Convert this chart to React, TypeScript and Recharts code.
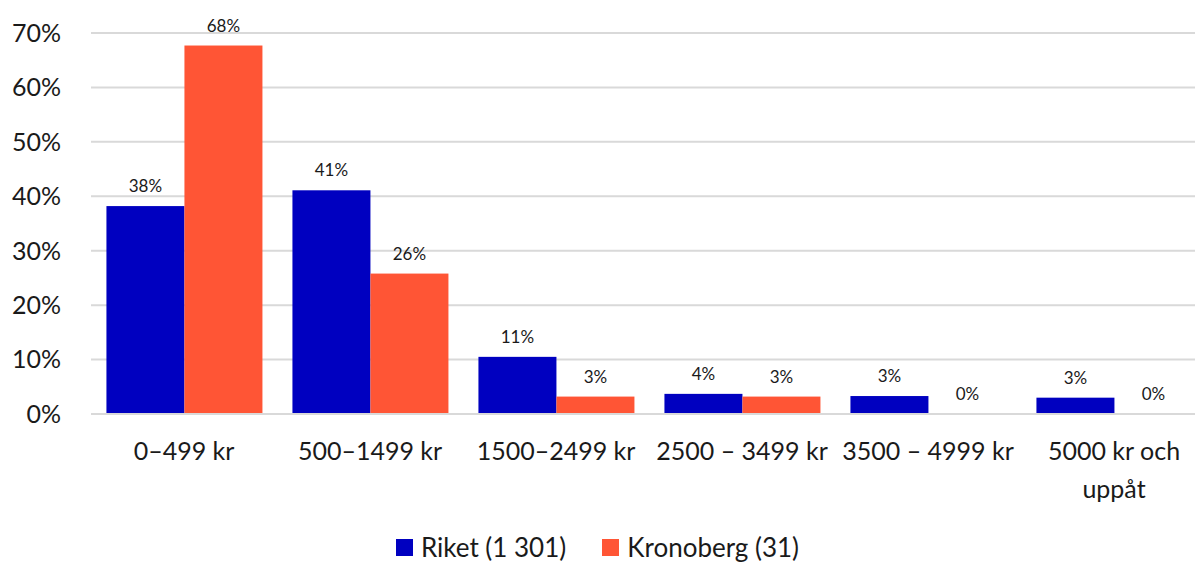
import React from 'react';
import { BarChart, Bar, XAxis, YAxis, CartesianGrid, Legend } from 'recharts';

const categories = ['0–499 kr', '500–1499 kr', '1500–2499 kr', '2500 – 3499 kr', '3500 – 4999 kr', '5000 kr och\nuppåt'];
const riket = [38.2, 41.1, 10.5, 3.7, 3.3, 3.0];
const kronoberg = [67.7, 25.8, 3.2, 3.2, 0, 0];
const yTicks = [0, 10, 20, 30, 40, 50, 60, 70];
const seriesNames = ['Riket (1 301)', 'Kronoberg (31)'];

const BLUE = '#0000C0';
const ORANGE = '#FF5535';
const TEXT = '#1a1a1a';
const FONT = 'Lato, "Open Sans", sans-serif';

const data = categories.map((name, i) => ({ name, riket: riket[i], kronoberg: kronoberg[i] }));

const CategoryTick = (props: any) => {
  const { x, y, payload } = props;
  const lines = String(payload.value).split('\n');
  return (
    <g transform={`translate(${x},${y})`}>
      {lines.map((line, i) => (
        <text key={i} x={0} y={i * 38} dy={38} textAnchor="middle" fontSize={25} fill={TEXT} fontFamily={FONT}>
          {line}
        </text>
      ))}
    </g>
  );
};

// bar plus its value label, so that 0% bars still get a label
const makeShape = (key: string, color: string) => (props: any) => {
  const { x, y, width, height, payload } = props;
  const v = Number(payload?.[key] ?? 0);
  const h = Math.max(0, Number(height) || 0);
  const top = Number(y) + Math.min(0, Number(height) || 0);
  return (
    <g>
      {h > 0 && <rect x={x} y={top} width={width} height={h} fill={color} />}
      <text x={Number(x) + Number(width) / 2} y={top - 14} textAnchor="middle" fontSize={17} fill={TEXT} fontFamily={FONT}>
        {`${Math.round(v)}%`}
      </text>
    </g>
  );
};

const LegendBox = () => (
  <div style={{ display: 'flex', justifyContent: 'center', alignItems: 'center', gap: 36, fontFamily: FONT, fontSize: 26, color: TEXT, width: 1195 }}>
    {seriesNames.map((n, i) => (
      <div key={n} style={{ display: 'flex', alignItems: 'center', gap: 8 }}>
        <span style={{ display: 'inline-block', width: 17, height: 17, background: i === 0 ? BLUE : ORANGE }} />
        <span>{n}</span>
      </div>
    ))}
  </div>
);

export default function App() {
  return (
    <div style={{ position: 'absolute', left: 0, top: 0, width: 1195, height: 563, overflow: 'hidden', background: '#fff' }}>
      <BarChart
        width={1215}
        height={563}
        data={data}
        margin={{ top: 33, right: 8, bottom: 0, left: 0 }}
        barCategoryGap="8.3%"
        barGap={0}
      >
        <CartesianGrid vertical={false} stroke="#d9d9d9" strokeWidth={2} />
        <XAxis
          dataKey="name"
          tick={<CategoryTick />}
          tickLine={false}
          axisLine={{ stroke: '#d9d9d9', strokeWidth: 2 }}
          interval={0}
          height={105}
        />
        <YAxis
          domain={[0, 70]}
          ticks={yTicks}
          tickFormatter={(v) => `${v}%`}
          tickLine={false}
          axisLine={false}
          width={91}
          tickMargin={24}
          tick={{ fontSize: 25, fill: TEXT, fontFamily: FONT }}
        />
        <Legend
          verticalAlign="bottom"
          height={44}
          content={<LegendBox />}
          wrapperStyle={{ left: 0, width: 1195, top: 531 }}
        />
        <Bar dataKey="riket" name={seriesNames[0]} fill={BLUE} isAnimationActive={false} shape={makeShape('riket', BLUE)} />
        <Bar dataKey="kronoberg" name={seriesNames[1]} fill={ORANGE} isAnimationActive={false} shape={makeShape('kronoberg', ORANGE)} />
      </BarChart>
    </div>
  );
}
